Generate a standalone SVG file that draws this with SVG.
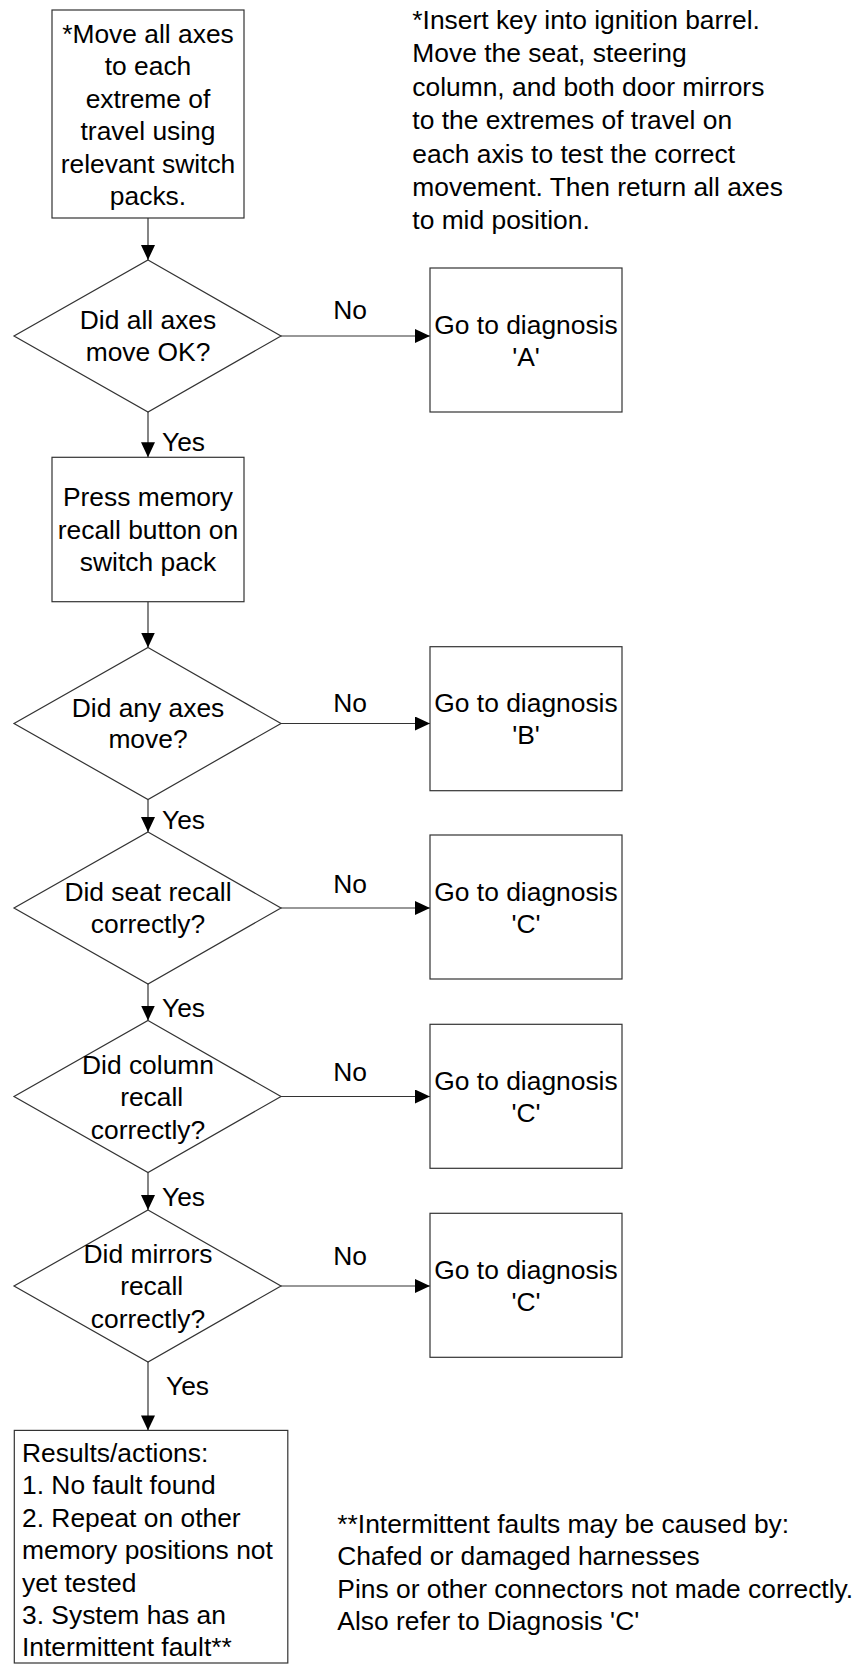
<svg xmlns="http://www.w3.org/2000/svg" width="866" height="1664" viewBox="0 0 866 1664">
<style>
text{font-family:"Liberation Sans",Arial,sans-serif;font-size:26.4px;fill:#000}
.c{text-anchor:middle}
.shape{fill:#fff;stroke:#333;stroke-width:1.2}
.conn{fill:none;stroke:#333;stroke-width:1.2;marker-end:url(#ah)}
</style>
<defs>
<marker id="ah" markerUnits="userSpaceOnUse" viewBox="0 0 15 14" markerWidth="15" markerHeight="14" refX="15" refY="7" orient="auto">
<path d="M0,0 L15,7 L0,14 z" fill="#000"/>
</marker>
</defs>
<rect width="866" height="1664" fill="#fff"/>

<g id="connectors">
<line class="conn" x1="148" y1="218" x2="148" y2="260"/>
<line class="conn" x1="281" y1="336" x2="430" y2="336"/>
<line class="conn" x1="148" y1="412" x2="148" y2="457.3"/>
<line class="conn" x1="148" y1="601.7" x2="148" y2="647.5"/>
<line class="conn" x1="281" y1="723.5" x2="430" y2="723.5"/>
<line class="conn" x1="148" y1="799.5" x2="148" y2="832"/>
<line class="conn" x1="281" y1="908" x2="430" y2="908"/>
<line class="conn" x1="148" y1="984" x2="148" y2="1020.5"/>
<line class="conn" x1="281" y1="1096.5" x2="430" y2="1096.5"/>
<line class="conn" x1="148" y1="1172.5" x2="148" y2="1210"/>
<line class="conn" x1="281" y1="1286" x2="430" y2="1286"/>
<line class="conn" x1="148" y1="1362" x2="148" y2="1430.4"/>
<text x="350" y="319" class="c">No</text>
<text x="350" y="712" class="c">No</text>
<text x="350" y="893" class="c">No</text>
<text x="350" y="1081" class="c">No</text>
<text x="350" y="1265" class="c">No</text>
<text x="162" y="451">Yes</text>
<text x="162" y="829.3">Yes</text>
<text x="162" y="1017.3">Yes</text>
<text x="162" y="1206">Yes</text>
<text x="166" y="1395">Yes</text>
</g>

<g id="start">
<rect class="shape" x="52" y="10" width="192" height="208"/>
<text class="c" x="148" y="43">*Move all axes</text>
<text class="c" x="148" y="75.4">to each</text>
<text class="c" x="148" y="107.8">extreme of</text>
<text class="c" x="148" y="140.2">travel using</text>
<text class="c" x="148" y="172.6">relevant switch</text>
<text class="c" x="148" y="205">packs.</text>
</g>

<g id="note-top">
<text x="412.3" y="29">*Insert key into ignition barrel.</text>
<text x="412.3" y="62.4">Move the seat, steering</text>
<text x="412.3" y="95.8">column, and both door mirrors</text>
<text x="412.3" y="129.2">to the extremes of travel on</text>
<text x="412.3" y="162.6">each axis to test the correct</text>
<text x="412.3" y="196">movement. Then return all axes</text>
<text x="412.3" y="229.4">to mid position.</text>
</g>

<g id="d1">
<polygon class="shape" points="148,260 281,336 148,412 14,336"/>
<text class="c" x="148" y="329.3">Did all axes</text>
<text class="c" x="148" y="360.5">move OK?</text>
</g>

<g id="boxA">
<rect class="shape" x="430" y="268" width="192" height="144"/>
<text class="c" x="526" y="333.5">Go to diagnosis</text>
<text class="c" x="526" y="365.9">'A'</text>
</g>

<g id="press">
<rect class="shape" x="52" y="457.3" width="192" height="144.4"/>
<text class="c" x="148" y="506.3">Press memory</text>
<text class="c" x="148" y="538.7">recall button on</text>
<text class="c" x="148" y="571">switch pack</text>
</g>

<g id="d2">
<polygon class="shape" points="148,647.5 281,723.5 148,799.5 14,723.5"/>
<text class="c" x="148" y="716.7">Did any axes</text>
<text class="c" x="148" y="748.3">move?</text>
</g>

<g id="boxB">
<rect class="shape" x="430" y="646.7" width="192" height="144"/>
<text class="c" x="526" y="712">Go to diagnosis</text>
<text class="c" x="526" y="744.4">'B'</text>
</g>

<g id="d3">
<polygon class="shape" points="148,832 281,908 148,984 14,908"/>
<text class="c" x="148" y="900.7">Did seat recall</text>
<text class="c" x="148" y="933.3">correctly?</text>
</g>

<g id="boxC1">
<rect class="shape" x="430" y="835" width="192" height="144"/>
<text class="c" x="526" y="900.6">Go to diagnosis</text>
<text class="c" x="526" y="933">'C'</text>
</g>

<g id="d4">
<polygon class="shape" points="148,1020.5 281,1096.5 148,1172.5 14,1096.5"/>
<text class="c" x="148" y="1073.5">Did column</text>
<text class="c" x="151.7" y="1106">recall</text>
<text class="c" x="148" y="1138.5">correctly?</text>
</g>

<g id="boxC2">
<rect class="shape" x="430" y="1024.3" width="192" height="144"/>
<text class="c" x="526" y="1089.8">Go to diagnosis</text>
<text class="c" x="526" y="1122.2">'C'</text>
</g>

<g id="d5">
<polygon class="shape" points="148,1210 281,1286 148,1362 14,1286"/>
<text class="c" x="148" y="1262.5">Did mirrors</text>
<text class="c" x="151.7" y="1295">recall</text>
<text class="c" x="148" y="1327.5">correctly?</text>
</g>

<g id="boxC3">
<rect class="shape" x="430" y="1213.3" width="192" height="144"/>
<text class="c" x="526" y="1278.8">Go to diagnosis</text>
<text class="c" x="526" y="1311.2">'C'</text>
</g>

<g id="results">
<rect class="shape" x="14.3" y="1430.4" width="273.5" height="232.6"/>
<text x="22" y="1462">Results/actions:</text>
<text x="22" y="1494.4">1. No fault found</text>
<text x="22" y="1526.8">2. Repeat on other</text>
<text x="22" y="1559.2">memory positions not</text>
<text x="22" y="1591.6">yet tested</text>
<text x="22" y="1624">3. System has an</text>
<text x="22" y="1656.4">Intermittent fault**</text>
</g>

<g id="note-bottom">
<text x="337.3" y="1533">**Intermittent faults may be caused by:</text>
<text x="337.3" y="1565.3">Chafed or damaged harnesses</text>
<text x="337.3" y="1597.6">Pins or other connectors not made correctly.</text>
<text x="337.3" y="1629.9">Also refer to Diagnosis 'C'</text>
</g>
</svg>
